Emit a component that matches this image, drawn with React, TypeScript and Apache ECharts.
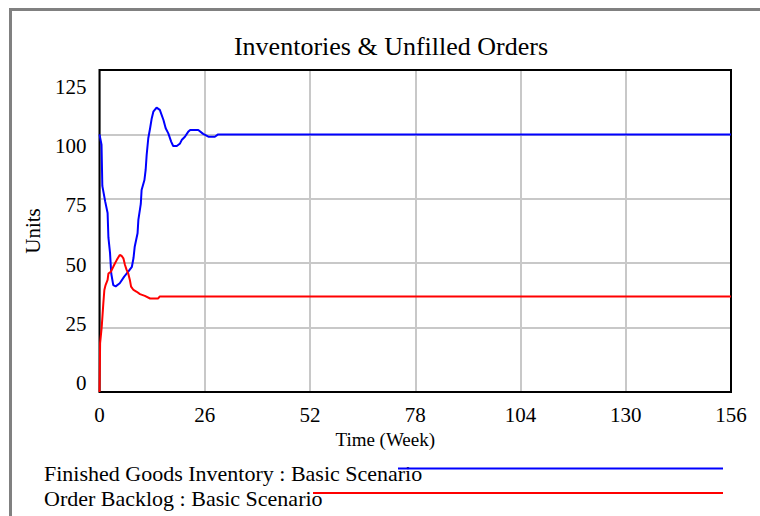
import React, { useEffect, useRef } from "react";
import * as echarts from "echarts";

const chartTitle = "Inventories & Unfilled Orders";
const xAxisName = "Time (Week)";
const yAxisName = "Units";
const seriesNames = [
  "Finished Goods Inventory : Basic Scenario",
  "Order Backlog : Basic Scenario",
];
const seriesColors = ["#0000ff", "#ff0000"];

const xTickValues = [0, 26, 52, 78, 104, 130, 156];
const yTickValues = [0, 25, 50, 75, 100, 125];

// Finished Goods Inventory (time in weeks, units)
const inventoryTime = [
  0, 0.5, 0.7, 1.4, 2.0, 2.2, 2.6, 2.9, 3.4, 4.0, 5.0, 6.1, 7.1, 8.0, 8.4, 8.7,
  9.4, 9.6, 10.2, 10.4, 11.1, 11.4, 11.65, 12.05, 12.5, 12.9, 13.3, 14.1, 14.9,
  15.8, 16.35, 17.0, 17.7, 18.2, 19.1, 19.9, 20.3, 21.1, 21.9, 22.4, 24.4, 25.6,
  26.9, 28.5, 29.3, 156,
];
const inventoryValues = [
  100, 96, 80, 74, 69.5, 60, 54, 46, 41.5, 41, 42.2, 44.8, 46.7, 48.6, 52, 56.4,
  61.6, 66.8, 73, 78.4, 82.3, 86.2, 92, 98.5, 102.4, 106.2, 108.8, 110.4, 109.5,
  105.6, 102.4, 100.4, 97.2, 95.5, 95.5, 96.5, 97.8, 99.1, 101, 101.7, 101.7,
  100.2, 99.1, 99.1, 100, 100,
];

// Order Backlog (time in weeks, units)
const backlogTime = [
  0, 0.1, 0.15, 0.55, 0.95, 1.2, 1.5, 2.0, 2.2, 2.8, 3.4, 3.8, 4.25, 5.0, 5.5,
  5.9, 6.3, 6.7, 7.1, 7.5, 7.8, 8.4, 9.2, 10.0, 11.2, 12.5, 14.5, 14.9, 156,
];
const backlogValues = [
  0, 12, 19, 25.3, 34.5, 39.6, 41.5, 43.5, 46, 46.7, 48.6, 49.9, 51.2, 53.2,
  52.8, 51.9, 49.3, 47.4, 46, 43.5, 40.9, 39.6, 38.9, 38, 37.3, 36.3, 36.3, 37.1,
  37.1,
];

const FONT = '"Liberation Serif", "Times New Roman", serif';

const layout = {
  plotLeft: 99.5,
  plotTop: 70,
  plotRight: 731,
  plotBottom: 392,
  legendTextX: 44,
  legendRowY: [473, 498],
  legendLineY: [468.5, 493],
  legendLineStart: [398, 313],
  legendLineEnd: 723,
};

export default function App() {
  const ref = useRef<HTMLDivElement>(null);

  useEffect(() => {
    if (!ref.current) return;
    const chart = echarts.init(ref.current, null, { renderer: "svg" });

    const inv = inventoryTime.map((t, i) => [t, inventoryValues[i]]);
    const back = backlogTime.map((t, i) => [t, backlogValues[i]]);

    const legendGraphics: any[] = [];
    seriesNames.forEach((name, i) => {
      legendGraphics.push({
        type: "text",
        x: layout.legendTextX,
        y: layout.legendRowY[i],
        style: {
          text: name,
          font: `22px ${FONT}`,
          fill: "#000",
          verticalAlign: "middle",
        },
        z: 10,
      });
      legendGraphics.push({
        type: "line",
        shape: {
          x1: layout.legendLineStart[i],
          y1: layout.legendLineY[i],
          x2: layout.legendLineEnd,
          y2: layout.legendLineY[i],
        },
        style: { stroke: seriesColors[i], lineWidth: 2 },
        z: 11,
      });
    });

    chart.setOption({
      animation: false,
      backgroundColor: "#ffffff",
      title: {
        text: chartTitle,
        left: 386,
        top: 28,
        textAlign: "center",
        textStyle: {
          fontFamily: FONT,
          fontSize: 26,
          fontWeight: "normal",
          color: "#000",
        },
      },
      grid: {
        left: layout.plotLeft,
        top: layout.plotTop,
        right: 760 - layout.plotRight,
        bottom: 516 - layout.plotBottom,
        show: false,
        containLabel: false,
      },
      xAxis: {
        type: "value",
        min: 0,
        max: 156,
        interval: 26,
        name: xAxisName,
        nameLocation: "middle",
        nameGap: 35,
        nameTextStyle: {
          fontFamily: FONT,
          fontSize: 19,
          color: "#000",
          padding: [0, 60, 0, 0],
        },
        axisLine: { show: false },
        axisTick: { show: false },
        axisLabel: {
          fontFamily: FONT,
          fontSize: 21,
          color: "#000",
          margin: 12,
          customValues: xTickValues,
        },
        splitLine: { show: true, lineStyle: { color: "#c8c8c8", width: 2 } },
      },
      yAxis: [
        {
          type: "value",
          min: 0,
          max: 125,
          interval: 25,
          position: "left",
          name: yAxisName,
          nameLocation: "middle",
          nameGap: 56,
          nameRotate: 90,
          nameTextStyle: { fontFamily: FONT, fontSize: 21, color: "#000" },
          axisLine: { show: false },
          axisTick: { show: false },
          axisLabel: { show: false },
          splitLine: { show: true, lineStyle: { color: "#c8c8c8", width: 2 } },
        },
        {
          type: "value",
          min: -3.8,
          max: 132.2,
          position: "left",
          axisLine: { show: false },
          axisTick: { show: false },
          splitLine: { show: false },
          axisLabel: {
            fontFamily: FONT,
            fontSize: 21,
            color: "#000",
            margin: 13,
            customValues: yTickValues,
          },
        },
      ],
      series: [
        {
          name: seriesNames[0],
          type: "line",
          data: inv,
          showSymbol: false,
          symbol: "none",
          smooth: false,
          lineStyle: { color: seriesColors[0], width: 2 },
          itemStyle: { color: seriesColors[0] },
          z: 3,
        },
        {
          name: seriesNames[1],
          type: "line",
          data: back,
          showSymbol: false,
          symbol: "none",
          smooth: false,
          lineStyle: { color: seriesColors[1], width: 2 },
          itemStyle: { color: seriesColors[1] },
          z: 3,
        },
      ],
      graphic: [
        {
          type: "rect",
          shape: { x: 10.5, y: 9.5, width: 800, height: 600 },
          style: { fill: "none", stroke: "#808080", lineWidth: 3 },
          z: -1,
          silent: true,
        },
        {
          type: "rect",
          shape: {
            x: layout.plotLeft,
            y: layout.plotTop,
            width: layout.plotRight - layout.plotLeft,
            height: layout.plotBottom - layout.plotTop,
          },
          style: { fill: "none", stroke: "#000", lineWidth: 2 },
          z: 1,
          silent: true,
        },
        ...legendGraphics,
      ],
    });

    return () => chart.dispose();
  }, []);

  return (
    <div
      ref={ref}
      style={{ position: "fixed", left: 0, top: 0, width: 760, height: 516 }}
    />
  );
}
